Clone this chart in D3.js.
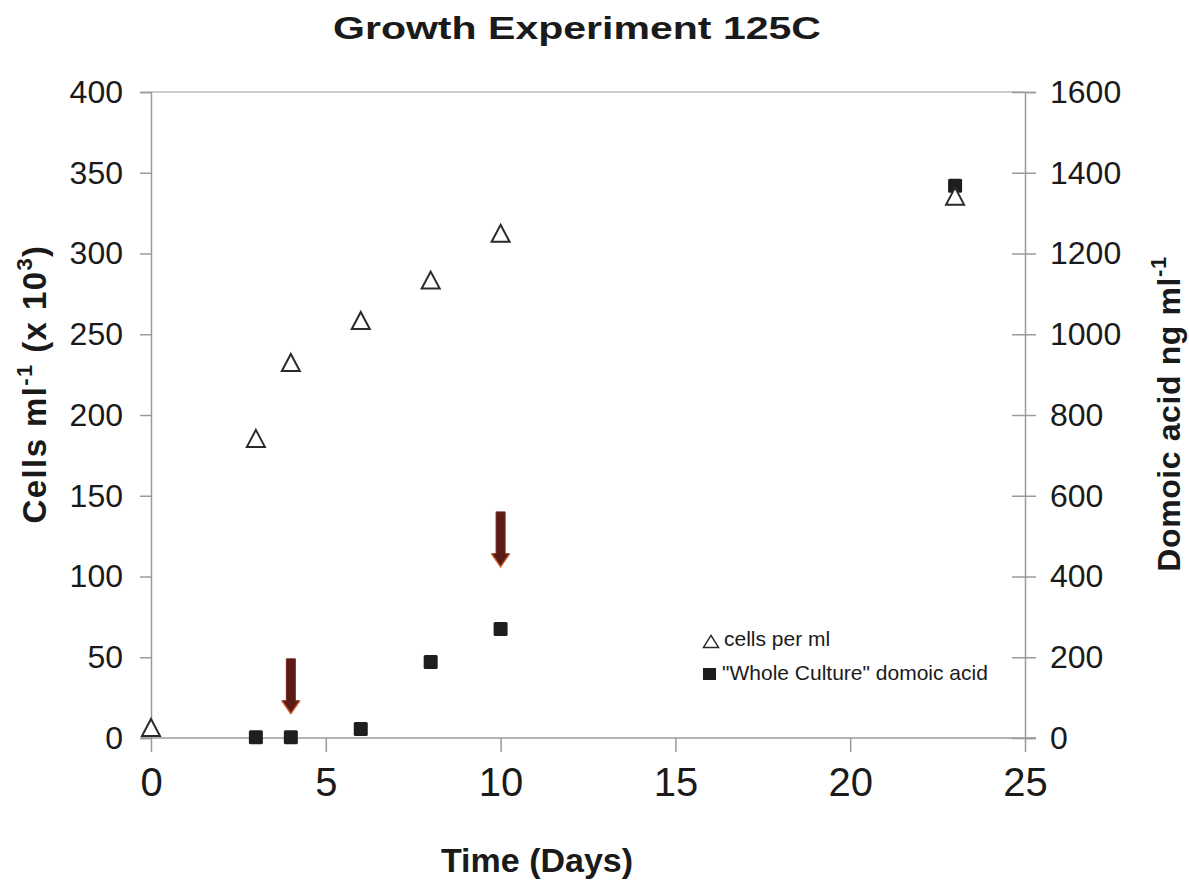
<!DOCTYPE html>
<html>
<head>
<meta charset="utf-8">
<script src="https://cdn.jsdelivr.net/npm/d3@7"></script>
<style>
  html, body { margin: 0; padding: 0; background: #fff; }
  svg { display: block; font-family: "Liberation Sans", Arial, sans-serif; }
</style>
</head>
<body>
<svg id="chart" width="1189" height="893"></svg>
<script>
// Growth experiment 125C: cell counts (left axis) and whole-culture domoic acid (right axis)
const cellDays   = [0, 3, 4, 6, 8, 10, 23];
const cellCounts = [6, 185, 232, 258, 283, 312, 335];   // cells ml^-1 (x 10^3)

const daDays   = [3, 4, 6, 8, 10, 23];
const daValues = [2, 2, 22, 188, 270, 1368];            // domoic acid ng ml^-1

// Arrows marking sampling events (day, start and end on the cell axis)
const arrowDays  = [4, 10];
const arrowFrom  = [49, 140];
const arrowTo    = [15, 106];

const xTicks      = [0, 5, 10, 15, 20, 25];
const yLeftTicks  = [0, 50, 100, 150, 200, 250, 300, 350, 400];
const yRightTicks = [0, 200, 400, 600, 800, 1000, 1200, 1400, 1600];

const svg = d3.select("#chart");
const plotL = 151, plotR = 1025, plotT = 92, plotB = 738;

const x  = d3.scaleLinear().domain([0, 25]).range([plotL, plotR]);
const yL = d3.scaleLinear().domain([0, 400]).range([plotB, plotT]);
const yR = d3.scaleLinear().domain([0, 1600]).range([plotB, plotT]);

const axisColor = "#9a9a9a";
const ink = "#1a1a1a";

// Top frame line
svg.append("line")
  .attr("x1", plotL).attr("x2", plotR).attr("y1", plotT).attr("y2", plotT)
  .attr("stroke", "#bdbdbd").attr("stroke-width", 1.5);

// Left axis
const gL = svg.append("g").attr("transform", `translate(${plotL},0)`)
  .call(d3.axisLeft(yL).tickValues(yLeftTicks).tickFormat(d3.format("d")).tickSize(11).tickPadding(17));
gL.selectAll("text").attr("font-size", 32).attr("fill", ink);

// Right axis (ticks cross the line)
const gR = svg.append("g").attr("transform", `translate(${plotR},0)`)
  .call(d3.axisRight(yR).tickValues(yRightTicks).tickFormat(d3.format("d")).tickSize(11).tickPadding(14));
gR.selectAll(".tick line").attr("x1", -13);
gR.selectAll("text").attr("font-size", 32).attr("fill", ink);

// Bottom axis
const gX = svg.append("g").attr("transform", `translate(0,${plotB})`)
  .call(d3.axisBottom(x).tickValues(xTicks).tickSize(14).tickPadding(16));
gX.select(".domain").attr("d", `M${plotL - 10},0H${plotR + 11}`);
gX.selectAll("text").attr("font-size", 40).attr("fill", ink);

[gL, gR, gX].forEach(g => {
  g.selectAll(".domain").attr("stroke", axisColor).attr("stroke-width", 1.5);
  g.selectAll(".tick line").attr("stroke", axisColor).attr("stroke-width", 1.5);
});

// Title
svg.append("text").attr("x", 577).attr("y", 39)
  .attr("text-anchor", "middle").attr("font-size", 32).attr("font-weight", "bold")
  .attr("textLength", 488).attr("lengthAdjust", "spacingAndGlyphs")
  .attr("fill", ink).text("Growth Experiment 125C");

// X axis title
svg.append("text").attr("x", 537).attr("y", 872)
  .attr("text-anchor", "middle").attr("font-size", 34).attr("font-weight", "bold")
  .attr("fill", ink).text("Time (Days)");

// Left axis title
const tL = svg.append("text")
  .attr("transform", "translate(46,384) rotate(-90)")
  .attr("text-anchor", "middle").attr("font-size", 33).attr("font-weight", "bold")
  .attr("letter-spacing", 1.4).attr("fill", ink);
tL.append("tspan").text("Cells ml");
tL.append("tspan").attr("dy", -14).attr("font-size", 22).text("-1");
tL.append("tspan").attr("dy", 14).text(" (x 10");
tL.append("tspan").attr("dy", -14).attr("font-size", 22).text("3");
tL.append("tspan").attr("dy", 14).text(")");

// Right axis title
const tR = svg.append("text")
  .attr("transform", "translate(1180,414) rotate(-90)")
  .attr("text-anchor", "middle").attr("font-size", 32).attr("font-weight", "bold")
  .attr("letter-spacing", 0.6).attr("fill", ink);
tR.append("tspan").text("Domoic acid ng ml");
tR.append("tspan").attr("dy", -14).attr("font-size", 22).text("-1");

// Triangle path centred on a point
const triPath = (cx, cy, w, h) =>
  `M${cx},${cy - h * 0.55}L${cx + w / 2},${cy + h * 0.45}L${cx - w / 2},${cy + h * 0.45}Z`;

// Domoic acid squares
svg.append("g").selectAll("rect")
  .data(daDays.map((d, i) => [d, daValues[i]]))
  .join("rect")
  .attr("x", d => x(d[0]) - 7).attr("y", d => yR(d[1]) - 7)
  .attr("width", 14).attr("height", 14).attr("rx", 1.5)
  .attr("fill", "#1e1e1e");

// Cell count triangles
svg.append("g").selectAll("path")
  .data(cellDays.map((d, i) => [d, cellCounts[i]]))
  .join("path")
  .attr("d", d => triPath(x(d[0]), yL(d[1]), 18, 17))
  .attr("fill", "#fff").attr("stroke", "#2a2a2a").attr("stroke-width", 2);

// Arrows
const arrows = svg.append("g");
arrowDays.forEach((d, i) => {
  const cx = x(d), y0 = yL(arrowFrom[i]), y1 = yL(arrowTo[i]);
  const shaftW = 9, headW = 18, headH = 13;
  arrows.append("path")
    .attr("d", `M${cx - shaftW / 2},${y0}H${cx + shaftW / 2}V${y1 - headH}H${cx + headW / 2}` +
               `L${cx},${y1}L${cx - headW / 2},${y1 - headH}H${cx - shaftW / 2}Z`)
    .attr("fill", "#5c1a16").attr("stroke", "#6e2a22").attr("stroke-width", 1);
  arrows.append("path")
    .attr("d", `M${cx - headW / 2},${y1 - headH}L${cx},${y1}L${cx + headW / 2},${y1 - headH}`)
    .attr("fill", "none").attr("stroke", "#e0662a").attr("stroke-width", 1.5).attr("opacity", 0.8);
});

// Legend
const lg = svg.append("g").attr("font-size", 21).attr("fill", ink);
lg.append("path").attr("d", triPath(711, 642, 15, 12))
  .attr("fill", "#fff").attr("stroke", "#2a2a2a").attr("stroke-width", 1.5);
lg.append("text").attr("x", 724).attr("y", 646).text("cells per ml");
lg.append("rect").attr("x", 703).attr("y", 668).attr("width", 13).attr("height", 12).attr("fill", "#1e1e1e");
lg.append("text").attr("x", 722).attr("y", 680).text("\"Whole Culture\" domoic acid");
</script>
</body>
</html>
